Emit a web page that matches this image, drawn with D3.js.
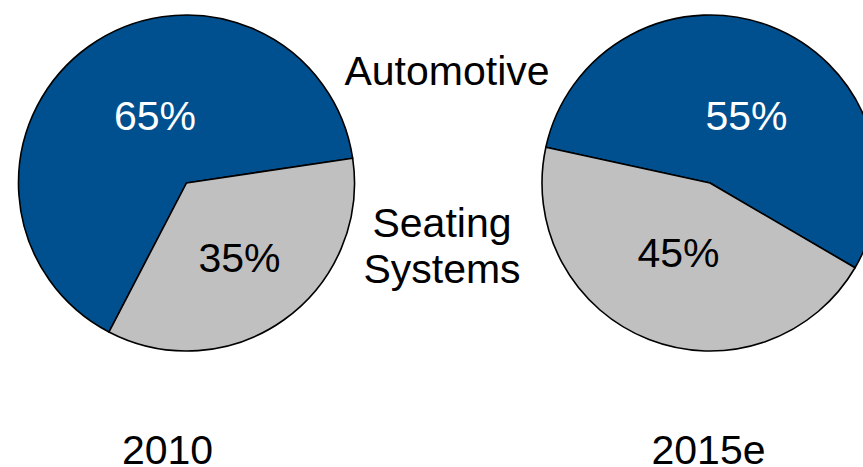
<!DOCTYPE html>
<html>
<head>
<meta charset="utf-8">
<script src="https://cdn.jsdelivr.net/npm/d3@7"></script>
<style>
  html, body { margin: 0; padding: 0; background: #fff; overflow: hidden; }
  svg { display: block; }
  text { font-family: "Liberation Sans", Arial, sans-serif; }
</style>
</head>
<body>
<svg id="chart" width="863" height="467"></svg>
<script>
// ---- data ----
const years = ["2010", "2015e"];
const segments = ["Automotive", "Seating Systems"];
const automotiveShare = [65, 55];
const seatingShare = [35, 45];

// ---- layout ----
const W = 863, H = 467;
const colors = { "Automotive": "#00508F", "Seating Systems": "#C0C0C0" };
const labelColors = { "Automotive": "#ffffff", "Seating Systems": "#000000" };
const radius = 168;
const centers = [[186.5, 183], [710, 183]];
const startDeg = [207.5, 282.3];
const pctPos = [
  { "Automotive": [155, 130], "Seating Systems": [239.5, 271.5] },
  { "Automotive": [746.5, 129.5], "Seating Systems": [678.5, 266.5] }
];
const yearPos = [[167.5, 463.5], [708.5, 463.5]];
const fontSize = 41;

const svg = d3.select("#chart");
const arc = d3.arc().innerRadius(0).outerRadius(radius);

years.forEach((yr, i) => {
  const data = [
    { name: segments[0], value: automotiveShare[i] },
    { name: segments[1], value: seatingShare[i] }
  ];
  const s = startDeg[i] * Math.PI / 180;
  const pie = d3.pie().sort(null).value(d => d.value)
    .startAngle(s).endAngle(s + 2 * Math.PI);
  const g = svg.append("g").attr("transform", `translate(${centers[i][0]},${centers[i][1]})`);
  g.selectAll("path").data(pie(data)).join("path")
    .attr("d", arc)
    .attr("fill", d => colors[d.data.name])
    .attr("stroke", "#000")
    .attr("stroke-width", 1.6)
    .attr("stroke-linejoin", "round");

  data.forEach(d => {
    const p = pctPos[i][d.name];
    svg.append("text")
      .attr("x", p[0]).attr("y", p[1])
      .attr("text-anchor", "middle")
      .attr("font-size", fontSize)
      .attr("fill", labelColors[d.name])
      .text(d.value + "%");
  });

  svg.append("text")
    .attr("x", yearPos[i][0]).attr("y", yearPos[i][1])
    .attr("text-anchor", "middle")
    .attr("font-size", fontSize)
    .attr("fill", "#000")
    .text(yr);
});

// category labels between the pies
svg.append("text")
  .attr("x", 447).attr("y", 85)
  .attr("text-anchor", "middle")
  .attr("font-size", fontSize)
  .attr("fill", "#000")
  .text(segments[0]);

const seatLines = segments[1].split(" ");
svg.append("text")
  .attr("text-anchor", "middle")
  .attr("font-size", fontSize)
  .attr("fill", "#000")
  .selectAll("tspan").data(seatLines).join("tspan")
  .attr("x", 442)
  .attr("y", (d, k) => 236.5 + k * 46.5)
  .text(d => d);
</script>
</body>
</html>
